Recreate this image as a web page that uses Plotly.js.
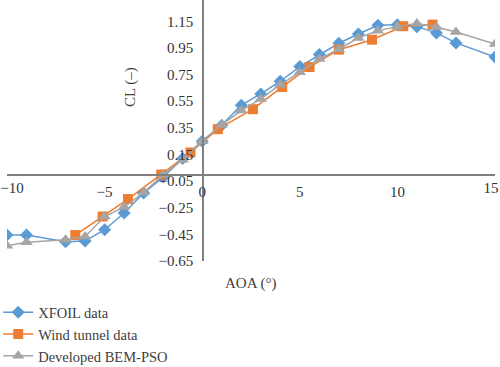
<!DOCTYPE html>
<html>
<head>
<meta charset="utf-8">
<script src="https://cdn.plot.ly/plotly-3.0.1.min.js"></script>
<style>html,body{margin:0;padding:0;background:#fff;}#chart{width:500px;height:367px;}</style>
</head>
<body>
<div id="chart"></div>
<script>
const xfoilAoa = [-10, -9, -7, -6, -5, -4, -3, -2, -1, 0, 1, 2, 3, 4, 5, 6, 7, 8, 9, 10, 11, 12, 13, 15];
const xfoilCl  = [-0.455, -0.455, -0.505, -0.5, -0.415, -0.29, -0.14, -0.02, 0.12, 0.25, 0.37, 0.52, 0.605, 0.70, 0.81, 0.90, 0.985, 1.055, 1.12, 1.125, 1.11, 1.063, 0.988, 0.882];

const windAoa = [-6.5, -5.1, -3.8, -2.1, -0.6, 0.8, 2.6, 4.1, 5.5, 7.0, 8.7, 10.3, 11.8];
const windCl  = [-0.455, -0.316, -0.185, 0.0, 0.165, 0.34, 0.49, 0.657, 0.807, 0.937, 1.012, 1.113, 1.125];

const bemAoa = [-10, -9, -7, -6, -5, -4, -3, -2, -1, 0, 1, 2, 3, 4, 5, 6, 7, 8, 9, 10, 11, 12, 13, 15];
const bemCl  = [-0.535, -0.51, -0.49, -0.466, -0.316, -0.245, -0.136, -0.003, 0.11, 0.25, 0.373, 0.48, 0.567, 0.674, 0.767, 0.867, 0.94, 1.025, 1.08, 1.11, 1.133, 1.108, 1.07, 0.98];

const seriesNames = ["XFOIL data", "Wind tunnel data", "Developed BEM-PSO"];
const xTickVals = [-10, -5, 0, 5, 10, 15];
const yTickVals = [-0.65, -0.45, -0.25, -0.05, 0.15, 0.35, 0.55, 0.75, 0.95, 1.15];

const xRange = [-10, 15];
const yRange = [-0.65, 1.31];
const fontFam = "Liberation Serif";
const xPos = (0 - yRange[0]) / (yRange[1] - yRange[0]);
const yPos = (0 - xRange[0]) / (xRange[1] - xRange[0]);

const traces = [
  {x: xfoilAoa, y: xfoilCl, name: seriesNames[0], type: "scatter", mode: "lines+markers",
   line: {color: "#5B9BD5", width: 1.5}, marker: {symbol: "diamond", size: 10, color: "#5B9BD5"}},
  {x: windAoa, y: windCl, name: seriesNames[1], type: "scatter", mode: "lines+markers",
   line: {color: "#ED7D31", width: 1.5}, marker: {symbol: "square", size: 10, color: "#ED7D31"}},
  {x: bemAoa, y: bemCl, name: seriesNames[2], type: "scatter", mode: "lines+markers",
   line: {color: "#A5A5A5", width: 1.5}, marker: {symbol: "triangle-up", size: 11, color: "#A5A5A5"}},
  {x: [], y: [], xaxis: "x2", yaxis: "y", showlegend: false, type: "scatter", mode: "markers"},
  {x: [], y: [], xaxis: "x3", yaxis: "y", showlegend: false, type: "scatter", mode: "markers"}
];

const tickFont = {family: fontFam, size: 15, color: "#333"};
const edgeAxis = (vals, shift) => ({
  range: xRange, tickvals: vals, overlaying: "x", showgrid: false, zeroline: false,
  showline: false, ticks: "", ticklabeloverflow: "allow", ticklabelstandoff: 3,
  ticklabelshift: shift, anchor: "free", position: xPos, side: "bottom", tickfont: tickFont
});

const layout = {
  width: 500, height: 367,
  margin: {l: 7, r: 5, t: 0, b: 106, autoexpand: false},
  paper_bgcolor: "#fff", plot_bgcolor: "#fff",
  font: {family: fontFam, size: 15, color: "#333"},
  showlegend: true,
  legend: {x: -0.018, y: -0.135, xanchor: "left", yanchor: "top",
           font: {family: fontFam, size: 14.5, color: "#404040"}, bgcolor: "rgba(0,0,0,0)", tracegroupgap: 0},
  xaxis: {range: xRange, tickvals: xTickVals.slice(1, -1), showgrid: false, zeroline: false,
          showline: true, linecolor: "#808080", linewidth: 1.5, ticks: "",
          ticklabeloverflow: "allow", ticklabelstandoff: 3,
          anchor: "free", position: xPos, tickfont: tickFont},
  xaxis2: edgeAxis(xTickVals.slice(0, 1), 5),
  xaxis3: edgeAxis(xTickVals.slice(-1), -4),
  yaxis: {range: yRange, tickvals: yTickVals, ticktext: yTickVals.map(v => v.toFixed(2).replace("-", "\u2212")),
          showgrid: false, zeroline: false,
          showline: true, linecolor: "#808080", linewidth: 1.5, ticks: "",
          ticklabeloverflow: "allow", ticklabelstandoff: 6,
          anchor: "free", position: yPos, tickfont: tickFont},
  annotations: [
    {text: "CL (–)", xref: "paper", yref: "paper", x: (130 - 7) / 488, y: (261 - 87) / 261,
     xanchor: "center", yanchor: "middle", textangle: -90, showarrow: false,
     font: {family: fontFam, size: 15, color: "#404040"}},
    {text: "AOA (°)", xref: "paper", yref: "paper", x: (250 - 7) / 488, y: (261 - 283) / 261,
     xanchor: "center", yanchor: "middle", showarrow: false,
     font: {family: fontFam, size: 15, color: "#404040"}}
  ]
};

Plotly.newPlot("chart", traces, layout, {staticPlot: true, displayModeBar: false});
</script>
</body>
</html>
